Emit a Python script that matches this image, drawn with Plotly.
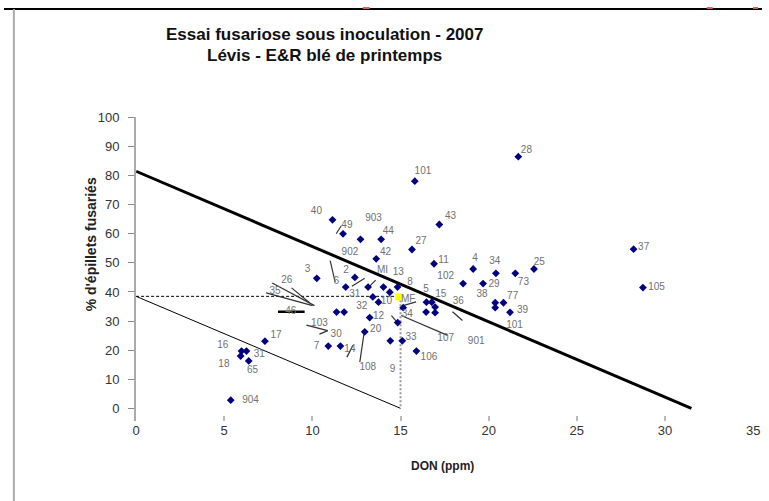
import plotly.graph_objects as go

# ---- data ----
don = [21.68, 15.81, 11.14, 11.74, 12.73, 13.90, 17.20, 15.65, 13.62, 16.90,
       19.12, 20.41, 21.51, 22.57, 28.22, 28.75, 18.55, 19.68, 20.37, 20.84,
       20.37, 21.21, 10.25, 12.41, 11.89, 13.16, 14.03, 14.83, 14.39, 13.43,
       13.75, 15.15, 16.47, 16.77, 16.96, 16.45, 16.96, 11.37, 11.80, 13.25,
       12.97, 14.84, 14.42, 15.10, 15.90, 7.31, 5.98, 6.26, 5.93, 6.39,
       10.90, 11.59, 5.37]
fus = [86.5, 78.1, 64.8, 60.0, 58.1, 58.1, 63.2, 54.6, 51.4, 49.7,
       47.9, 46.4, 46.4, 47.9, 54.7, 41.5, 42.9, 42.9, 36.3, 36.3,
       34.6, 33.0, 44.7, 45.0, 41.7, 41.7, 41.7, 41.7, 39.9, 38.3,
       36.5, 34.6, 36.5, 36.5, 34.8, 33.1, 32.9, 33.1, 33.1, 31.2,
       26.3, 29.5, 23.2, 23.2, 19.7, 23.1, 19.7, 19.7, 18.0, 16.3,
       21.4, 21.4, 2.8]

check_don = [14.91]
check_fus = [38.3]

main_line_x = [0, 31.5]
main_line_y = [81.5, 0]
thin_line_x = [0, 15]
thin_line_y = [38.5, 0]
hdash_x = [0, 15]
hdash_y = [38.5, 38.5]
vdash_x = [15, 15]
vdash_y = [38.5, 0]

label_text = ["28", "101", "40", "49", "903", "44", "43", "27", "902", "42",
              "11", "4", "34", "25", "73", "102", "29", "3", "2", "6",
              "MI", "13", "8", "5", "15", "36", "38", "77", "39", "101",
              "105", "37", "901", "107", "33", "106", "9", "10", "MF", "34",
              "12", "32", "31", "20", "108", "14", "7", "30", "103", "17",
              "16", "31", "18", "65", "904", "26", "35", "46"]
label_x = [22.14, 16.27, 10.23, 11.96, 13.47, 14.31, 17.84, 16.16, 12.13, 14.15,
           17.44, 19.23, 20.35, 22.87, 21.97, 17.56, 20.30, 9.73, 11.91, 11.35,
           13.98, 14.87, 15.54, 16.44, 17.28, 18.28, 19.62, 21.36, 21.92, 21.47,
           29.52, 28.79, 19.29, 17.56, 15.60, 16.61, 14.54, 14.20, 15.43, 15.38,
           13.75, 12.80, 12.41, 13.59, 13.14, 12.13, 10.23, 11.35, 10.40, 7.94,
           4.92, 6.99, 4.98, 6.60, 6.49, 8.55, 7.88, 8.78]
label_y = [88.8, 81.4, 67.8, 62.7, 65.4, 60.7, 66.1, 57.3, 53.6, 53.6,
           50.8, 51.5, 50.5, 50.2, 43.1, 45.4, 42.7, 47.8, 47.5, 43.7,
           47.5, 46.8, 43.1, 41.0, 39.3, 36.6, 39.0, 38.6, 33.6, 28.5,
           41.4, 55.3, 23.1, 24.1, 24.4, 17.6, 13.2, 36.6, 37.3, 32.2,
           31.5, 34.9, 39.0, 27.1, 14.2, 20.3, 21.4, 25.4, 29.2, 25.1,
           21.7, 18.6, 14.9, 12.9, 2.7, 44.1, 40.0, 33.2]

leader_x0 = [11.35, 11.01, 12.24, 13.25, 17.95, 15.04, 14.48, 15.15, 12.92, 11.96,
             9.66, 10.40, 7.72, 7.38, 8.82]
leader_y0 = [60.0, 50.8, 42.0, 42.0, 33.2, 31.9, 31.9, 35.3, 25.4, 17.6,
             28.6, 25.5, 43.1, 39.7, 41.4]
leader_x1 = [11.63, 11.29, 12.97, 13.59, 18.51, 17.67, 14.87, 15.88, 12.69, 12.30,
             10.87, 10.87, 10.12, 10.01, 9.84]
leader_y1 = [62.7, 43.4, 44.7, 44.1, 30.2, 25.1, 29.2, 36.6, 15.9, 21.7,
             26.7, 26.7, 35.3, 35.3, 36.3]
arrow_x = [8.05, 9.56]
arrow_y = [33.2, 33.2]

x_ticks = [0, 5, 10, 15, 20, 25, 30, 35]
y_ticks = [0, 10, 20, 30, 40, 50, 60, 70, 80, 90, 100]

FONT = "Arial, Liberation Sans, sans-serif"

fig = go.Figure()

# reference lines
fig.add_trace(go.Scatter(x=main_line_x, y=main_line_y, mode="lines",
                         line=dict(color="black", width=3), hoverinfo="skip"))
fig.add_trace(go.Scatter(x=thin_line_x, y=thin_line_y, mode="lines",
                         line=dict(color="black", width=1), hoverinfo="skip"))
fig.add_trace(go.Scatter(x=hdash_x, y=hdash_y, mode="lines",
                         line=dict(color="black", width=1, dash="3px,2px"), hoverinfo="skip"))
fig.add_trace(go.Scatter(x=vdash_x, y=vdash_y, mode="lines",
                         line=dict(color="#999999", width=2, dash="2px,2px"), hoverinfo="skip"))

# leader lines
for i in range(len(leader_x0)):
    fig.add_trace(go.Scatter(x=[leader_x0[i], leader_x1[i]], y=[leader_y0[i], leader_y1[i]],
                             mode="lines", line=dict(color="#333333", width=1.2),
                             hoverinfo="skip"))
fig.add_trace(go.Scatter(x=arrow_x, y=arrow_y, mode="lines",
                         line=dict(color="black", width=2.5), hoverinfo="skip"))

# data points
fig.add_trace(go.Scatter(x=don, y=fus, mode="markers",
                         marker=dict(symbol="diamond", size=6, color="#000080",
                                     line=dict(width=0)),
                         cliponaxis=False))
fig.add_trace(go.Scatter(x=check_don, y=check_fus, mode="markers",
                         marker=dict(symbol="square", size=7, color="#ffff00",
                                     line=dict(width=0))))

# point labels
fig.add_trace(go.Scatter(x=label_x, y=label_y, mode="text", text=label_text,
                         textfont=dict(family=FONT, size=10, color="#707070"),
                         textposition="middle center", hoverinfo="skip",
                         cliponaxis=False))

annotations = [
    dict(text="<b>Essai fusariose sous inoculation - 2007</b>", x=325 / 769, y=1 - 28 / 501,
         xref="paper", yref="paper", showarrow=False, xanchor="center", yanchor="middle",
         font=dict(family=FONT, size=17, color="#111111")),
    dict(text="<b>Lévis - E&R blé de printemps</b>", x=325 / 769, y=1 - 49 / 501,
         xref="paper", yref="paper", showarrow=False, xanchor="center", yanchor="middle",
         font=dict(family=FONT, size=17, color="#111111")),
    dict(text="<b>DON (ppm)</b>", x=445 / 769, y=1 - 466 / 501,
         xref="paper", yref="paper", showarrow=False, xanchor="center", yanchor="middle",
         font=dict(family=FONT, size=12, color="#222222")),
    dict(text="<b>% d'épillets fusariés</b>", x=88 / 769, y=1 - 241 / 501,
         xref="paper", yref="paper", showarrow=False, textangle=-90,
         xanchor="center", yanchor="middle",
         font=dict(family=FONT, size=14, color="#222222")),
]

shapes = [
    dict(type="line", xref="paper", yref="paper", x0=0, x1=1, y0=1 - 2 / 501, y1=1 - 2 / 501,
         line=dict(color="black", width=2)),
    dict(type="line", xref="paper", yref="paper", x0=10 / 769, x1=10 / 769, y0=0, y1=1 - 2 / 501,
         line=dict(color="#aaaaaa", width=2)),
    dict(type="rect", xref="paper", yref="paper", x0=364 / 769, x1=371 / 769,
         y0=1 - 2 / 501, y1=1, line=dict(width=0), fillcolor="#e06060"),
    dict(type="rect", xref="paper", yref="paper", x0=713 / 769, x1=719 / 769,
         y0=1 - 2 / 501, y1=1, line=dict(width=0), fillcolor="#e06060"),
    dict(type="rect", xref="paper", yref="paper", x0=760 / 769, x1=765 / 769,
         y0=1 - 2 / 501, y1=1, line=dict(width=0), fillcolor="#e06060"),
]

fig.update_layout(
    width=769, height=501,
    margin=dict(l=0, r=0, t=0, b=0),
    paper_bgcolor="white", plot_bgcolor="white",
    showlegend=False,
    annotations=annotations,
    shapes=shapes,
    xaxis=dict(domain=[134 / 769, 760 / 769], range=[0, 35], tickvals=x_ticks,
               showgrid=False, zeroline=False, showline=False,
               ticks="inside", ticklen=5, tickwidth=2, tickcolor="#bbbbbb",
               tickfont=dict(family=FONT, size=13, color="#333333")),
    yaxis=dict(domain=[(501 - 420.3) / 501, (501 - 112) / 501], range=[-4.5, 100],
               tickvals=y_ticks, showgrid=False, zeroline=False,
               showline=True, linecolor="#aaaaaa", linewidth=2,
               ticks="outside", ticklen=6, tickwidth=1, tickcolor="#888888",
               ticklabelstandoff=6,
               tickfont=dict(family=FONT, size=13, color="#333333")),
)

fig.write_html("out.html")
